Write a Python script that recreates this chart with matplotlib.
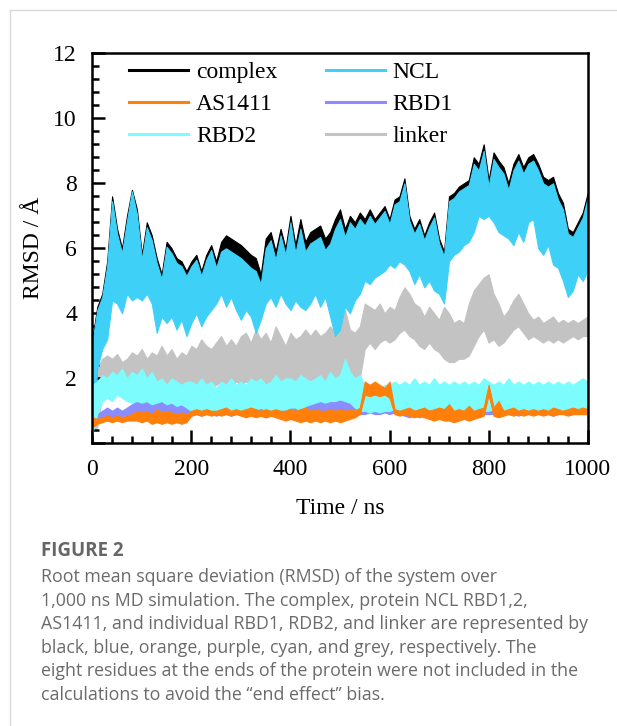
import numpy as np
import matplotlib
matplotlib.use("Agg")
import matplotlib.pyplot as plt
from matplotlib.lines import Line2D
from matplotlib.ticker import AutoMinorLocator, FixedLocator

TIME_NS = list(range(0, 1001, 10))

# complex (black): upper / lower envelope of the fluctuating trace
CX_HI = [3.2, 4.2, 4.6, 5.6, 7.6, 6.6, 6.0, 7.0, 7.8, 7.2,
         5.8, 6.8, 6.4, 5.7, 5.2, 6.2, 6.0, 5.7, 5.6, 5.3,
         5.6, 5.8, 5.3, 5.8, 6.1, 5.6, 6.2, 6.4, 6.3, 6.2,
         6.1, 5.95, 5.8, 5.7, 5.2, 6.3, 6.5, 5.9, 6.6, 6.0,
         7.0, 6.1, 6.9, 6.2, 6.5, 6.6, 6.7, 6.3, 6.5, 6.9,
         7.2, 6.6, 7.0, 6.8, 7.1, 6.9, 7.2, 6.9, 7.1, 7.3,
         6.9, 7.5, 7.6, 8.15, 7.0, 6.6, 6.9, 6.4, 6.8, 7.1,
         6.3, 5.9, 7.6, 7.7, 7.9, 8.0, 8.1, 8.8, 8.6, 9.2,
         8.1, 8.95, 8.7, 8.5, 8.0, 8.6, 8.9, 8.5, 8.8, 8.9,
         8.6, 8.2, 8.1, 8.2, 7.7, 7.4, 6.6, 6.5, 6.8, 7.1,
         7.7]
CX_LO = [0.4, 2.5, 3.1, 3.5, 4.7, 4.6, 4.3, 4.9, 4.7, 4.8,
         4.7, 4.9, 4.6, 3.8, 4.2, 4.0, 4.2, 3.9, 4.1, 3.7,
         4.0, 4.3, 3.9, 4.2, 4.4, 4.6, 4.9, 4.5, 4.8, 4.4,
         4.1, 4.4, 4.2, 3.8, 4.1, 4.6, 4.8, 4.5, 4.9, 4.6,
         4.4, 4.7, 4.5, 4.4, 4.6, 4.9, 4.5, 4.8, 4.2, 3.7,
         3.9, 4.5, 4.3, 4.7, 4.9, 5.3, 5.2, 5.4, 5.5, 5.6,
         5.8, 5.7, 5.9, 5.8, 5.6, 5.2, 5.5, 5.1, 5.3, 5.0,
         4.9, 4.6, 5.9, 6.1, 6.2, 6.4, 6.5, 6.8, 7.3, 7.2,
         7.3, 7.1, 6.8, 6.7, 6.6, 6.4, 6.8, 6.5, 7.1, 7.2,
         6.3, 6.1, 6.4, 5.8, 5.7, 5.3, 4.8, 5.0, 5.5, 5.3,
         5.6]

# NCL (blue)
NCL_HI = [3.1, 4.1, 4.5, 5.45, 7.45, 6.45, 5.85, 6.85, 7.75, 7.05,
          5.65, 6.65, 6.25, 5.55, 5.05, 6.05, 5.85, 5.55, 5.45, 5.15,
          5.45, 5.65, 5.15, 5.65, 5.95, 5.4, 5.9, 6.0, 5.9, 5.8,
          5.7, 5.55, 5.4, 5.3, 4.9, 6.0, 6.25, 5.65, 6.4, 5.8,
          6.8, 5.85, 6.6, 5.9, 6.15, 6.25, 6.35, 5.95, 6.15, 6.6,
          6.9, 6.35, 6.8, 6.6, 6.9, 6.7, 7.0, 6.75, 6.95, 7.15,
          6.75, 7.35, 7.45, 8.0, 6.85, 6.45, 6.75, 6.25, 6.65, 6.95,
          6.15, 5.75, 7.45, 7.55, 7.75, 7.85, 7.95, 8.6, 8.4, 9.0,
          7.9, 8.75, 8.5, 8.3, 7.8, 8.4, 8.7, 8.3, 8.6, 8.7,
          8.4, 8.0, 7.9, 8.0, 7.5, 7.2, 6.45, 6.35, 6.65, 6.95,
          7.55]
NCL_LO = [0.2, 2.3, 2.9, 3.2, 4.4, 4.3, 4.0, 4.6, 4.4, 4.5,
          4.4, 4.6, 4.3, 3.4, 3.9, 3.7, 3.9, 3.5, 3.8, 3.3,
          3.7, 4.0, 3.6, 3.9, 4.1, 4.3, 4.6, 4.2, 4.5, 4.1,
          3.8, 4.1, 3.9, 3.4, 3.8, 4.3, 4.5, 4.2, 4.6, 4.3,
          4.1, 4.4, 4.2, 4.1, 4.3, 4.6, 4.2, 4.5, 3.9, 3.3,
          3.5, 4.2, 4.0, 4.4, 4.6, 5.0, 4.9, 5.1, 5.2, 5.3,
          5.5, 5.4, 5.6, 5.5, 5.3, 4.9, 5.2, 4.8, 5.0, 4.7,
          4.6, 4.3, 5.6, 5.8, 5.9, 6.1, 6.2, 6.5, 7.0, 6.9,
          7.0, 6.8, 6.5, 6.4, 6.3, 6.1, 6.5, 6.2, 6.8, 6.9,
          6.0, 5.8, 6.1, 5.5, 5.4, 5.0, 4.5, 4.7, 5.2, 5.0,
          5.3]

# linker (grey)
LK_HI = [2.2, 2.3, 2.6, 2.7, 2.6, 2.75, 2.5, 2.6, 2.8, 2.7,
         2.9, 2.6, 2.8, 2.7, 3.0, 2.7, 2.9, 2.6, 2.8, 2.7,
         3.0, 2.9, 3.2, 3.0, 2.9, 3.1, 3.3, 3.0, 3.2, 3.0,
         3.3, 3.4, 3.1, 3.5, 3.2, 3.4, 3.1, 3.6, 3.3, 3.0,
         3.4, 3.2, 3.3, 3.5, 3.3, 3.5, 3.3, 3.4, 3.6, 3.4,
         3.5, 4.1, 3.5, 3.4, 3.6, 4.3, 4.2, 4.1, 4.3, 4.0,
         4.2, 4.1, 4.5, 4.8, 4.6, 4.3, 4.2, 3.9, 4.2, 4.0,
         3.8, 4.2, 4.0, 3.7, 3.8, 3.7, 4.3, 4.7, 4.9, 5.1,
         5.2, 4.6, 4.3, 3.9, 4.1, 4.4, 4.6, 4.3, 4.0, 3.8,
         3.9, 3.7, 3.8, 3.9, 3.7, 3.8, 3.7, 3.8, 3.7, 3.8,
         3.9]
LK_LO = [0.4, 0.5, 1.5, 1.6, 1.7, 1.6, 1.7, 1.8, 1.7, 1.6,
         1.7, 1.8, 1.6, 1.7, 1.8, 1.4, 1.7, 1.8, 1.6, 1.7,
         1.8, 1.7, 1.9, 1.8, 1.7, 1.8, 1.9, 1.8, 1.7, 1.9,
         1.8, 1.9, 1.8, 1.9, 2.0, 1.8, 1.9, 1.8, 1.9, 1.8,
         1.9, 1.8, 1.9, 1.8, 1.9, 2.0, 1.9, 1.8, 1.9, 2.0,
         1.9, 2.0, 1.9, 2.0, 2.0, 2.9, 3.1, 2.9, 3.1, 3.2,
         3.1, 3.2, 3.4, 3.5, 3.3, 3.2, 3.0, 2.9, 3.1, 2.9,
         2.8, 2.6, 2.5, 2.5, 2.6, 2.6, 2.7, 3.0, 3.3, 3.5,
         3.1, 3.2, 3.0, 3.1, 3.3, 3.5, 3.6, 3.4, 3.2, 3.3,
         3.2, 3.1, 3.2, 3.1, 3.2, 3.1, 3.2, 3.3, 3.2, 3.3,
         3.3]

# RBD2 (cyan)
R2_HI = [1.8, 1.9, 2.1, 2.0, 2.2, 2.1, 2.3, 2.0, 2.2, 2.1,
         2.3, 2.0, 2.2, 1.9, 2.0, 1.8, 2.0, 1.9, 1.8, 1.9,
         1.9, 1.8, 2.0, 1.8, 1.9, 1.7, 1.9, 1.8, 2.0, 1.8,
         1.9, 1.8, 2.0, 1.9, 2.0, 1.8, 1.9, 2.1, 1.9, 2.0,
         2.0, 1.9, 2.1, 2.0, 1.9, 2.0, 2.1, 1.9, 2.2, 2.0,
         2.1, 2.6, 2.2, 2.0, 2.1, 1.8, 1.7, 1.8, 1.7, 1.8,
         1.8, 1.9, 1.8, 1.9, 1.8, 2.0, 1.8, 1.9, 1.8, 2.0,
         1.8, 1.9, 1.8, 1.9, 1.8, 1.9, 1.8, 1.9, 1.8, 2.0,
         1.9, 1.8, 1.9, 1.8, 2.0, 1.8, 1.9, 1.8, 1.9, 1.8,
         1.9, 1.8, 1.9, 1.8, 1.9, 1.8, 1.9, 1.8, 1.9, 2.0,
         1.9]
R2_LO = [0.3, 0.9, 1.3, 1.4, 1.3, 1.5, 1.4, 1.3, 1.25, 1.3,
         1.25, 1.3, 1.2, 1.25, 1.3, 1.2, 1.25, 1.15, 1.2, 1.1,
         1.0, 0.95, 1.0, 1.05, 1.0, 0.95, 1.0, 1.05, 1.0, 1.0,
         1.0, 1.05, 1.0, 1.0, 1.1, 1.0, 1.0, 1.1, 1.0, 1.05,
         1.1, 1.1, 1.0, 1.15, 1.2, 1.25, 1.3, 1.25, 1.3, 1.3,
         1.35, 1.3, 1.25, 1.1, 1.0, 1.0, 0.95, 1.0, 0.95, 1.0,
         1.0, 1.05, 1.0, 0.95, 1.0, 1.05, 1.0, 1.0, 1.05, 1.0,
         1.0, 0.95, 1.0, 0.9, 0.95, 1.0, 0.95, 1.0, 0.95, 1.0,
         1.0, 1.05, 1.0, 1.0, 0.95, 1.0, 1.0, 1.05, 1.0, 1.0,
         1.0, 1.05, 1.0, 1.05, 1.0, 1.0, 1.05, 1.0, 1.0, 1.05,
         1.0]

# RBD1 (purple)
R1_HI = [0.6, 0.9, 1.0, 1.1, 1.0, 1.1, 1.0, 1.1, 1.2, 1.3,
         1.4, 1.3, 1.5, 1.3, 1.4, 1.2, 1.3, 1.4, 1.2, 1.1,
         1.1, 1.0, 1.1, 1.0, 1.1, 1.0, 1.05, 1.1, 1.0, 1.2,
         1.1, 1.0, 1.1, 1.05, 1.1, 1.0, 1.1, 1.0, 1.1, 1.0,
         1.1, 1.2, 1.1, 1.3, 1.4, 1.3, 1.5, 1.4, 1.6, 1.5,
         1.6, 1.4, 1.3, 1.1, 1.0, 1.0, 1.1, 1.0, 1.0, 1.1,
         1.0, 1.05, 1.0, 1.1, 1.1, 1.2, 1.1, 1.2, 1.1, 1.2,
         1.1, 1.2, 1.0, 1.05, 1.0, 1.1, 1.0, 1.05, 1.0, 1.1,
         1.0, 1.1, 1.05, 1.0, 1.6, 1.1, 1.0, 1.1, 1.0, 1.05,
         1.0, 1.1, 1.0, 1.05, 1.0, 1.0, 1.05, 1.0, 1.0, 1.05,
         1.0]
R1_LO = [0.5, 0.7, 0.75, 0.8, 0.8, 0.8, 0.85, 0.8, 0.8, 0.75,
         0.75, 0.8, 0.75, 0.7, 0.75, 0.8, 0.75, 0.7, 0.75, 0.8,
         0.85, 0.9, 0.85, 0.9, 0.9, 0.85, 0.9, 0.9, 0.85, 0.9,
         0.9, 0.85, 0.9, 0.9, 0.85, 0.8, 0.85, 0.9, 0.85, 0.8,
         0.85, 0.8, 0.85, 0.8, 0.85, 0.8, 0.85, 0.8, 0.85, 0.8,
         0.85, 0.9, 0.9, 0.95, 0.9, 0.9, 0.95, 0.9, 0.9, 0.95,
         0.9, 0.95, 0.9, 0.85, 0.8, 0.85, 0.8, 0.85, 0.8, 0.85,
         0.85, 0.9, 0.9, 0.85, 0.9, 0.9, 0.85, 0.9, 0.9, 0.9,
         0.9, 0.9, 0.85, 0.9, 0.9, 0.9, 0.85, 0.9, 0.9, 0.9,
         0.9, 0.9, 0.9, 0.85, 0.9, 0.9, 0.9, 0.9, 0.9, 0.9,
         0.9]

# AS1411 (orange)
AS_HI = [0.8, 0.75, 0.8, 0.85, 0.8, 0.85, 0.8, 0.85, 0.9, 1.0,
         0.95, 1.0, 0.9, 1.05, 0.95, 1.0, 0.95, 0.9, 0.95, 0.9,
         1.0, 1.05, 1.0, 1.05, 1.0, 1.0, 1.05, 1.1, 1.0, 1.05,
         1.0, 1.05, 1.1, 1.05, 1.0, 1.05, 1.0, 1.05, 1.0, 1.0,
         1.05, 1.0, 1.05, 1.1, 1.0, 1.05, 1.0, 1.0, 1.05, 1.0,
         1.05, 1.0, 1.05, 1.0, 1.1, 1.9, 1.8, 1.9, 1.8, 1.7,
         1.9, 1.05, 1.0, 1.05, 1.1, 1.0, 1.05, 1.1, 1.0, 1.05,
         1.1, 1.05, 1.2, 1.0, 1.05, 1.0, 1.15, 1.0, 1.05, 1.1,
         1.8, 1.1, 1.3, 1.0, 1.05, 1.1, 1.0, 1.05, 1.0, 1.05,
         1.0, 1.05, 1.0, 1.1, 1.05, 1.0, 1.05, 1.1, 1.05, 1.1,
         1.05]
AS_LO = [0.5, 0.6, 0.65, 0.7, 0.65, 0.7, 0.65, 0.7, 0.7, 0.7,
         0.65, 0.7, 0.6, 0.65, 0.6, 0.65, 0.6, 0.65, 0.6, 0.65,
         0.85, 0.9, 0.85, 0.9, 0.85, 0.9, 0.85, 0.9, 0.85, 0.9,
         0.85, 0.8, 0.85, 0.8, 0.85, 0.8, 0.85, 0.8, 0.75, 0.7,
         0.75, 0.7, 0.65, 0.7, 0.65, 0.7, 0.65, 0.7, 0.65, 0.7,
         0.65, 0.7, 0.75, 0.8, 0.9, 1.5, 1.45, 1.5, 1.45, 1.5,
         1.4, 0.9, 0.85, 0.9, 0.85, 0.8, 0.85, 0.8, 0.75, 0.7,
         0.75, 0.7, 0.7, 0.65, 0.7, 0.75, 0.7, 0.75, 0.8, 0.85,
         1.5, 0.85, 0.8, 0.85, 0.9, 0.85, 0.9, 0.85, 0.9, 0.85,
         0.9, 0.85, 0.9, 0.85, 0.9, 0.9, 0.85, 0.9, 0.9, 0.9,
         0.9]

LABELS = ["complex", "NCL", "AS1411", "RBD1", "RBD2", "linker"]
Y_TICKS = [0, 2, 4, 6, 8, 10, 12]
Y_TICK_LABELS = ["", "2", "4", "6", "8", "10", "12"]
X_TICKS = [0, 200, 400, 600, 800, 1000]

CAPTION_TITLE = "FIGURE 2"
CAPTION_LINES = [
    "Root mean square deviation (RMSD) of the system over",
    "1,000 ns MD simulation. The complex, protein NCL RBD1,2,",
    "AS1411, and individual RBD1, RDB2, and linker are represented by",
    "black, blue, orange, purple, cyan, and grey, respectively. The",
    "eight residues at the ends of the protein were not included in the",
    "calculations to avoid the \u201cend effect\u201d bias.",
]

# ---------------- styling ----------------
COLORS = {
    "complex": "#000000",
    "NCL": "#3fd0f8",
    "AS1411": "#ff7f0a",
    "RBD1": "#8a8cff",
    "RBD2": "#7cfcfc",
    "linker": "#c3c3c3",
}
SERIF = ["Liberation Serif", "DejaVu Serif"]
FS = 17

fig = plt.figure(figsize=(6.17, 7.26), dpi=100)
ax = fig.add_axes([92.3 / 617, 1 - 443.3 / 726, 495.4 / 617, 390.0 / 726])

series = [
    ("linker", LK_LO, LK_HI, 1),
    ("complex", CX_LO, CX_HI, 2),
    ("NCL", NCL_LO, NCL_HI, 3),
    ("RBD1", R1_LO, R1_HI, 4),
    ("RBD2", R2_LO, R2_HI, 5),
    ("AS1411", AS_LO, AS_HI, 6),
]
t = np.array(TIME_NS, dtype=float)
for name, lo, hi, z in series:
    ax.fill_between(t, lo, hi, color=COLORS[name], lw=0.8,
                    edgecolor=COLORS[name], zorder=z)

ax.set_xlim(0, 1000)
ax.set_ylim(0, 12)
ax.xaxis.set_major_locator(FixedLocator(X_TICKS))
ax.yaxis.set_major_locator(FixedLocator(Y_TICKS))
ax.set_yticklabels(Y_TICK_LABELS)
ax.xaxis.set_minor_locator(AutoMinorLocator(5))
ax.yaxis.set_minor_locator(AutoMinorLocator(5))
ax.tick_params(which="both", direction="in", top=False, right=False, width=1.8)
ax.tick_params(which="major", length=9.5)
ax.tick_params(which="minor", length=5)
ax.tick_params(axis="y", which="major", pad=11)
ax.tick_params(axis="x", which="major", pad=11.5)
for lab in ax.get_xticklabels() + ax.get_yticklabels():
    lab.set_fontfamily(SERIF)
    lab.set_fontsize(FS)
for sp in ax.spines.values():
    sp.set_linewidth(1.8)
    sp.set_zorder(10)

ax.set_xlabel("Time / ns", fontsize=FS, family=SERIF, labelpad=13)
ax.set_ylabel("RMSD / \u00c5", fontsize=FS, family=SERIF)
ax.yaxis.set_label_coords(-0.098, 0.5)

# legend filled column-wise: rows read (complex, NCL), (AS1411, RBD1), (RBD2, linker)
LEG_ORDER = [LABELS[0], LABELS[2], LABELS[4], LABELS[1], LABELS[3], LABELS[5]]
handles = [Line2D([], [], color=COLORS[n], lw=2.2) for n in LEG_ORDER]
leg = ax.legend(handles, LEG_ORDER, ncol=2, loc="upper left",
                bbox_to_anchor=(0.074, 0.978), frameon=False,
                prop={"family": SERIF, "size": FS}, handlelength=2.5,
                handletextpad=0.35, columnspacing=2.03, labelspacing=0.43,
                borderaxespad=0, borderpad=0)
leg.set_zorder(20)

# card border lines
fig.add_artist(Line2D([9.5 / 617, 1.0], [1 - 9.5 / 726, 1 - 9.5 / 726],
                      transform=fig.transFigure, color="#d9d9d9", lw=1.0))
fig.add_artist(Line2D([9.5 / 617, 9.5 / 617], [1 - 9.5 / 726, 0.0],
                      transform=fig.transFigure, color="#d9d9d9", lw=1.0))

# caption
CAP_FONT = ["Open Sans", "DejaVu Sans"]
fig.text(41 / 617, 1 - 551.5 / 726, CAPTION_TITLE, family=CAP_FONT,
         fontsize=13.5, fontweight="bold", color="#666666", va="center", ha="left")
for i, line in enumerate(CAPTION_LINES):
    fig.text(41 / 617, 1 - (577.0 + i * 23.6) / 726, line, family=CAP_FONT,
             fontsize=12.8, color="#6a6a6a", va="center", ha="left")

fig.savefig("out.png", dpi=100)
